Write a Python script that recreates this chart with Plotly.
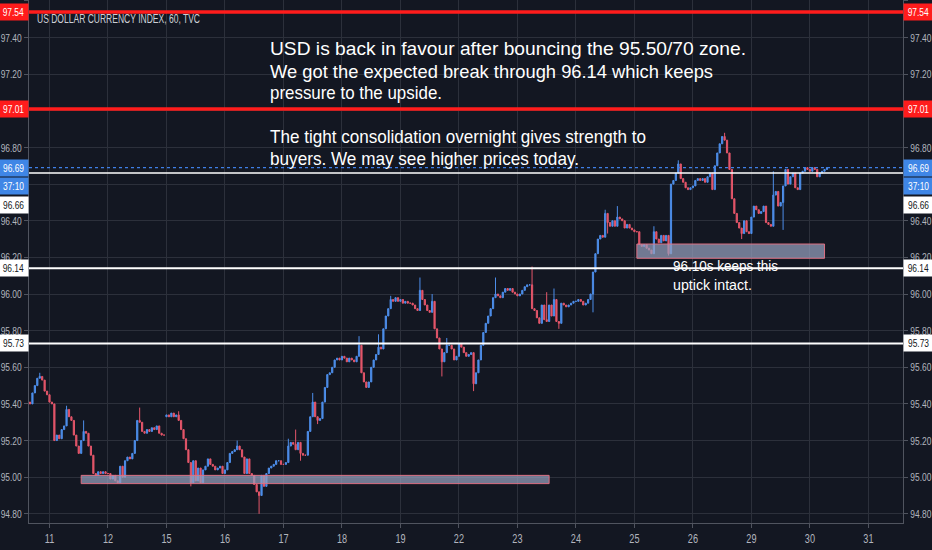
import json
import plotly.graph_objects as go

# ---------------- data ----------------
day_labels = ["11", "12", "15", "16", "17", "18", "19", "22", "23", "24", "25", "26", "29", "30", "31"]
bars_before_first_day = 9
bars_per_day = 24

closes_10 = [95.41, 95.40, 95.46, 95.50, 95.54, 95.55, 95.53, 95.47, 95.45]
closes_11 = [95.41, 95.40, 95.20, 95.23, 95.21, 95.26, 95.28, 95.37, 95.33, 95.31, 95.23, 95.17,
             95.13, 95.20, 95.25, 95.24, 95.17, 95.12, 95.02, 95.01, 95.03, 95.02, 95.03, 95.02]
closes_12 = [95.02, 94.99, 95.01, 94.98, 94.97, 95.06, 95.00, 95.09, 95.11, 95.10, 95.13, 95.20,
             95.31, 95.30, 95.25, 95.24, 95.26, 95.25, 95.27, 95.26, 95.28, 95.24, 95.23, 95.23]
closes_15 = [95.34, 95.33, 95.35, 95.33, 95.34, 95.31, 95.26, 95.21, 95.15, 95.08, 94.97, 95.09,
             94.98, 95.05, 94.97, 95.04, 95.06, 95.10, 95.07, 95.06, 95.04, 95.05, 95.06, 95.02]
closes_16 = [95.04, 95.08, 95.13, 95.14, 95.15, 95.17, 95.15, 95.11, 95.02, 95.10, 95.02, 95.01,
             94.96, 94.92, 94.90, 95.01, 94.95, 95.02, 95.05, 95.06, 95.07, 95.09, 95.09, 95.07]
closes_17 = [95.07, 95.08, 95.17, 95.19, 95.18, 95.15, 95.19, 95.13, 95.12, 95.12, 95.25, 95.33,
             95.41, 95.33, 95.31, 95.32, 95.41, 95.49, 95.56, 95.57, 95.60, 95.64, 95.65, 95.64]
closes_18 = [95.66, 95.65, 95.63, 95.65, 95.64, 95.63, 95.66, 95.72, 95.57, 95.52, 95.49, 95.52,
             95.60, 95.64, 95.67, 95.71, 95.70, 95.81, 95.88, 95.92, 95.97, 95.96, 95.98, 95.96]
closes_19 = [95.97, 95.95, 95.96, 95.95, 95.95, 95.94, 95.92, 95.91, 96.02, 95.97, 95.94, 95.91,
             95.90, 95.96, 95.81, 95.76, 95.70, 95.63, 95.68, 95.72, 95.72, 95.70, 95.64, 95.66]
closes_22 = [95.73, 95.71, 95.68, 95.66, 95.67, 95.68, 95.51, 95.57, 95.64, 95.72, 95.79, 95.84,
             95.88, 95.92, 95.98, 96.00, 95.99, 95.98, 96.01, 96.03, 96.02, 96.03, 96.01, 96.00]
closes_23 = [95.99, 96.00, 96.02, 96.04, 96.05, 96.05, 95.92, 95.91, 95.87, 95.84, 95.94, 95.86,
             95.85, 95.94, 95.88, 95.97, 95.85, 95.84, 95.95, 95.94, 95.93, 95.94, 95.95, 95.96]
closes_24 = [95.96, 95.97, 95.96, 95.94, 95.95, 95.97, 96.00, 96.12, 96.22, 96.30, 96.32, 96.31,
             96.44, 96.39, 96.37, 96.40, 96.37, 96.42, 96.41, 96.40, 96.36, 96.38, 96.36, 96.35]
closes_25 = [96.34, 96.34, 96.27, 96.26, 96.27, 96.25, 96.24, 96.22, 96.34, 96.30, 96.28, 96.32,
             96.29, 96.32, 96.22, 96.60, 96.62, 96.66, 96.71, 96.63, 96.61, 96.58, 96.57, 96.58]
closes_26 = [96.59, 96.62, 96.63, 96.62, 96.63, 96.61, 96.64, 96.66, 96.57, 96.70, 96.77, 96.82,
             96.86, 96.84, 96.77, 96.68, 96.52, 96.44, 96.39, 96.36, 96.33, 96.40, 96.34, 96.33]
closes_29 = [96.42, 96.48, 96.46, 96.44, 96.45, 96.48, 96.39, 96.38, 96.37, 96.54, 96.56, 96.48,
             96.50, 96.59, 96.68, 96.60, 96.64, 96.66, 96.58, 96.57, 96.66, 96.67, 96.69, 96.68]
closes_30 = [96.67, 96.69, 96.68, 96.64, 96.66, 96.67, 96.68, 96.69]

# opens that differ from the previous close (first bar, weekend gap)
open_overrides = {0: 95.44, 57: 95.33}
# wick extremes (bar index: price)
high_wicks = {5: 95.57, 16: 95.39, 23: 95.31, 46: 95.38, 62: 95.36, 86: 95.20, 107: 95.21,
              110: 95.26, 117: 95.46, 136: 95.77, 144: 95.78, 149: 95.99, 161: 96.09, 166: 96.00,
              172: 95.76, 192: 96.09, 207: 96.15, 213: 96.01, 216: 96.03, 237: 96.46, 242: 96.48,
              257: 96.37, 267: 96.73, 286: 96.88, 306: 96.67}
low_wicks = {67: 94.95, 95: 94.80, 112: 95.09, 119: 95.29, 170: 95.55, 183: 95.47, 218: 95.81,
             232: 95.90, 238: 96.33, 263: 96.21, 293: 96.30, 310: 96.35}

red_levels = [97.54, 97.01]
white_levels = [96.14, 95.73]
thin_level = 96.66
countdown = "37:10"

zone_start_bar = [22, 250]
zone_end_bar = [214, 327]
zone_low = [94.965, 96.195]
zone_high = [95.01, 96.273]

title_text = "US DOLLAR CURRENCY INDEX, 60, TVC"
note_lines = ["USD is back in favour after bouncing the 95.50/70 zone.",
              "We got the expected break through 96.14 which keeps",
              "pressure to the upside.",
              "",
              "The tight consolidation overnight gives strength to",
              "buyers. We may see higher prices today."]
zone_note_lines = ["96.10s keeps this", "uptick intact."]

# ---------------- build OHLC ----------------
closes = (closes_10 + closes_11 + closes_12 + closes_15 + closes_16 + closes_17 + closes_18 +
          closes_19 + closes_22 + closes_23 + closes_24 + closes_25 + closes_26 + closes_29 + closes_30)
bars = list(range(len(closes)))
opens = [open_overrides.get(i, closes[i - 1] if i > 0 else closes[0]) for i in bars]
highs = [max(opens[i], closes[i], high_wicks.get(i, -1e9)) for i in bars]
lows = [min(opens[i], closes[i], low_wicks.get(i, 1e9)) for i in bars]
last_price = closes[-1]
day_ticks = [bars_before_first_day + k * bars_per_day for k in range(len(day_labels))]

# ---------------- style ----------------
BG = "#131722"
GRID = "#2c303b"
AXIS = "#50545f"
TXT = "#b2b5be"
FONT = "Liberation Sans, Arial, sans-serif"
UP = "#4d8eea"
DOWN = "#e4566a"
RED = "#ff1c1c"
BLUE = "#3f86e6"

W, H = 932, 550
L, R, T, B = 29, 29, 0, 27
PW, PH = W - L - R, H - T - B


def px_x(px):
    return (px - L) / PW


def px_y(py):
    return (H - B - py) / PH


fig = go.Figure()
fig.add_trace(go.Candlestick(
    x=bars, open=opens, high=highs, low=lows, close=closes,
    increasing=dict(line=dict(color=UP, width=1), fillcolor=UP),
    decreasing=dict(line=dict(color=DOWN, width=1), fillcolor=DOWN),
    whiskerwidth=0, hoverinfo="skip", showlegend=False))
# invisible trace so the right price axis is drawn
fig.add_trace(go.Scatter(x=[bars[-1]], y=[last_price], yaxis="y2", mode="markers",
                         marker=dict(opacity=0), hoverinfo="skip", showlegend=False))

shapes = []
for lv in red_levels:
    shapes.append(dict(type="line", xref="paper", x0=0, x1=1, yref="y", y0=lv, y1=lv,
                       line=dict(color=RED, width=3.5)))
for lv in white_levels:
    shapes.append(dict(type="line", xref="paper", x0=0, x1=1, yref="y", y0=lv, y1=lv,
                       line=dict(color="#ffffff", width=2)))
shapes.append(dict(type="line", xref="paper", x0=0, x1=1, yref="y", y0=thin_level, y1=thin_level,
                   line=dict(color="#ffffff", width=1.5)))
shapes.append(dict(type="line", xref="paper", x0=0, x1=1, yref="y", y0=last_price, y1=last_price,
                   line=dict(color="#3f7fe6", width=1.3, dash="dot")))
for s, e, lo, hi in zip(zone_start_bar, zone_end_bar, zone_low, zone_high):
    shapes.append(dict(type="rect", xref="x", yref="y", x0=s, x1=e, y0=lo, y1=hi,
                       fillcolor="rgba(150,160,190,0.72)",
                       line=dict(color="rgba(226,112,132,0.95)", width=1)))

ann = []


def price_label(y, text, bg, fg, yshift=0):
    for side in ("left", "right"):
        ann.append(dict(xref="paper", yref="y", x=0 if side == "left" else 1, y=y,
                        xanchor="right" if side == "left" else "left", yanchor="middle",
                        text=text, showarrow=False, bgcolor=bg, width=27, height=14,
                        borderpad=1, yshift=yshift, align="center",
                        font=dict(family=FONT, size=11.5, color=fg)))


for lv in red_levels:
    price_label(lv, f"{lv:.2f}", RED, "#ffffff")
price_label(last_price, f"{last_price:.2f}", BLUE, "#ffffff")
price_label(last_price, countdown, BLUE, "#ffffff", yshift=-18)
price_label(thin_level, f"{thin_level:.2f}", "#ffffff", "#131722", yshift=-32)
for lv in white_levels:
    price_label(lv, f"{lv:.2f}", "#ffffff", "#131722")


def free_text(text, px, py, size, color):
    ann.append(dict(xref="paper", yref="paper", x=px_x(px), y=px_y(py), xanchor="left",
                    yanchor="middle", align="left", text=text, showarrow=False,
                    font=dict(family=FONT, size=size, color=color)))


free_text(title_text, 35, 18, 13.5, "#cdd0d6")
line_y = [49, 71, 93, 114, 136, 158]
for t, yy in zip(note_lines, line_y):
    if t:
        free_text(t, 268, yy, 19, "#ffffff")
for t, yy in zip(zone_note_lines, [266, 285]):
    free_text(t, 671, yy, 14.5, "#ffffff")

# drawn widths (px) of texts in the reference's narrow chart font
text_widths = {title_text: 163,
               note_lines[0]: 476, note_lines[1]: 443, note_lines[2]: 172,
               note_lines[4]: 376, note_lines[5]: 309,
               zone_note_lines[0]: 105, zone_note_lines[1]: 79}

yrange = [94.75, 97.605]
fig.update_layout(
    width=W, height=H, margin=dict(l=L, r=R, t=T, b=B, autoexpand=False),
    paper_bgcolor=BG, plot_bgcolor=BG, shapes=shapes, annotations=ann,
    showlegend=False,
    xaxis=dict(range=[0.59, 359.2], tickmode="array", tickvals=day_ticks, ticktext=day_labels,
               showgrid=True, gridcolor=GRID, gridwidth=1, zeroline=False, automargin=False,
               ticks="outside", ticklen=4, tickcolor=AXIS, showline=True, linecolor=AXIS,
               tickfont=dict(family=FONT, size=12.5, color=TXT),
               rangeslider=dict(visible=False), fixedrange=True),
    yaxis=dict(range=yrange, dtick=0.2, tick0=94.8, tickformat=".2f", side="left",
               showgrid=True, gridcolor=GRID, gridwidth=1, zeroline=False, automargin=False,
               ticks="outside", ticklen=4, tickcolor=AXIS, showline=True, linecolor=AXIS,
               tickfont=dict(family=FONT, size=11.5, color=TXT), fixedrange=True),
    yaxis2=dict(range=yrange, dtick=0.2, tick0=94.8, tickformat=".2f", side="right",
                overlaying="y", showgrid=False, zeroline=False, automargin=False,
                ticks="outside", ticklen=4, tickcolor=AXIS, showline=True, linecolor=AXIS,
                tickfont=dict(family=FONT, size=11.5, color=TXT), fixedrange=True),
)

# page without body margin; chart texts drawn narrow like the TradingView font
post = """
document.body.style.margin = '0';
document.body.style.background = '#131722';
var widths = __WIDTHS__;
var gd = document.getElementById('{plot_id}');
gd.querySelectorAll('text').forEach(function (t) {
  var s = t.textContent;
  if (!s) return;
  var w = t.getComputedTextLength();
  if (!(w > 0)) return;
  var fs = parseFloat(t.style.fontSize || window.getComputedStyle(t).fontSize);
  var target = null;
  if (Object.prototype.hasOwnProperty.call(widths, s)) target = widths[s];
  else if (fs < 13.5) target = w * 0.73;
  if (target) {
    t.setAttribute('textLength', target.toFixed(2));
    t.setAttribute('lengthAdjust', 'spacingAndGlyphs');
  }
});
""".replace("__WIDTHS__", json.dumps(text_widths))

fig.write_html("out.html", config=dict(displayModeBar=False), post_script=post)
